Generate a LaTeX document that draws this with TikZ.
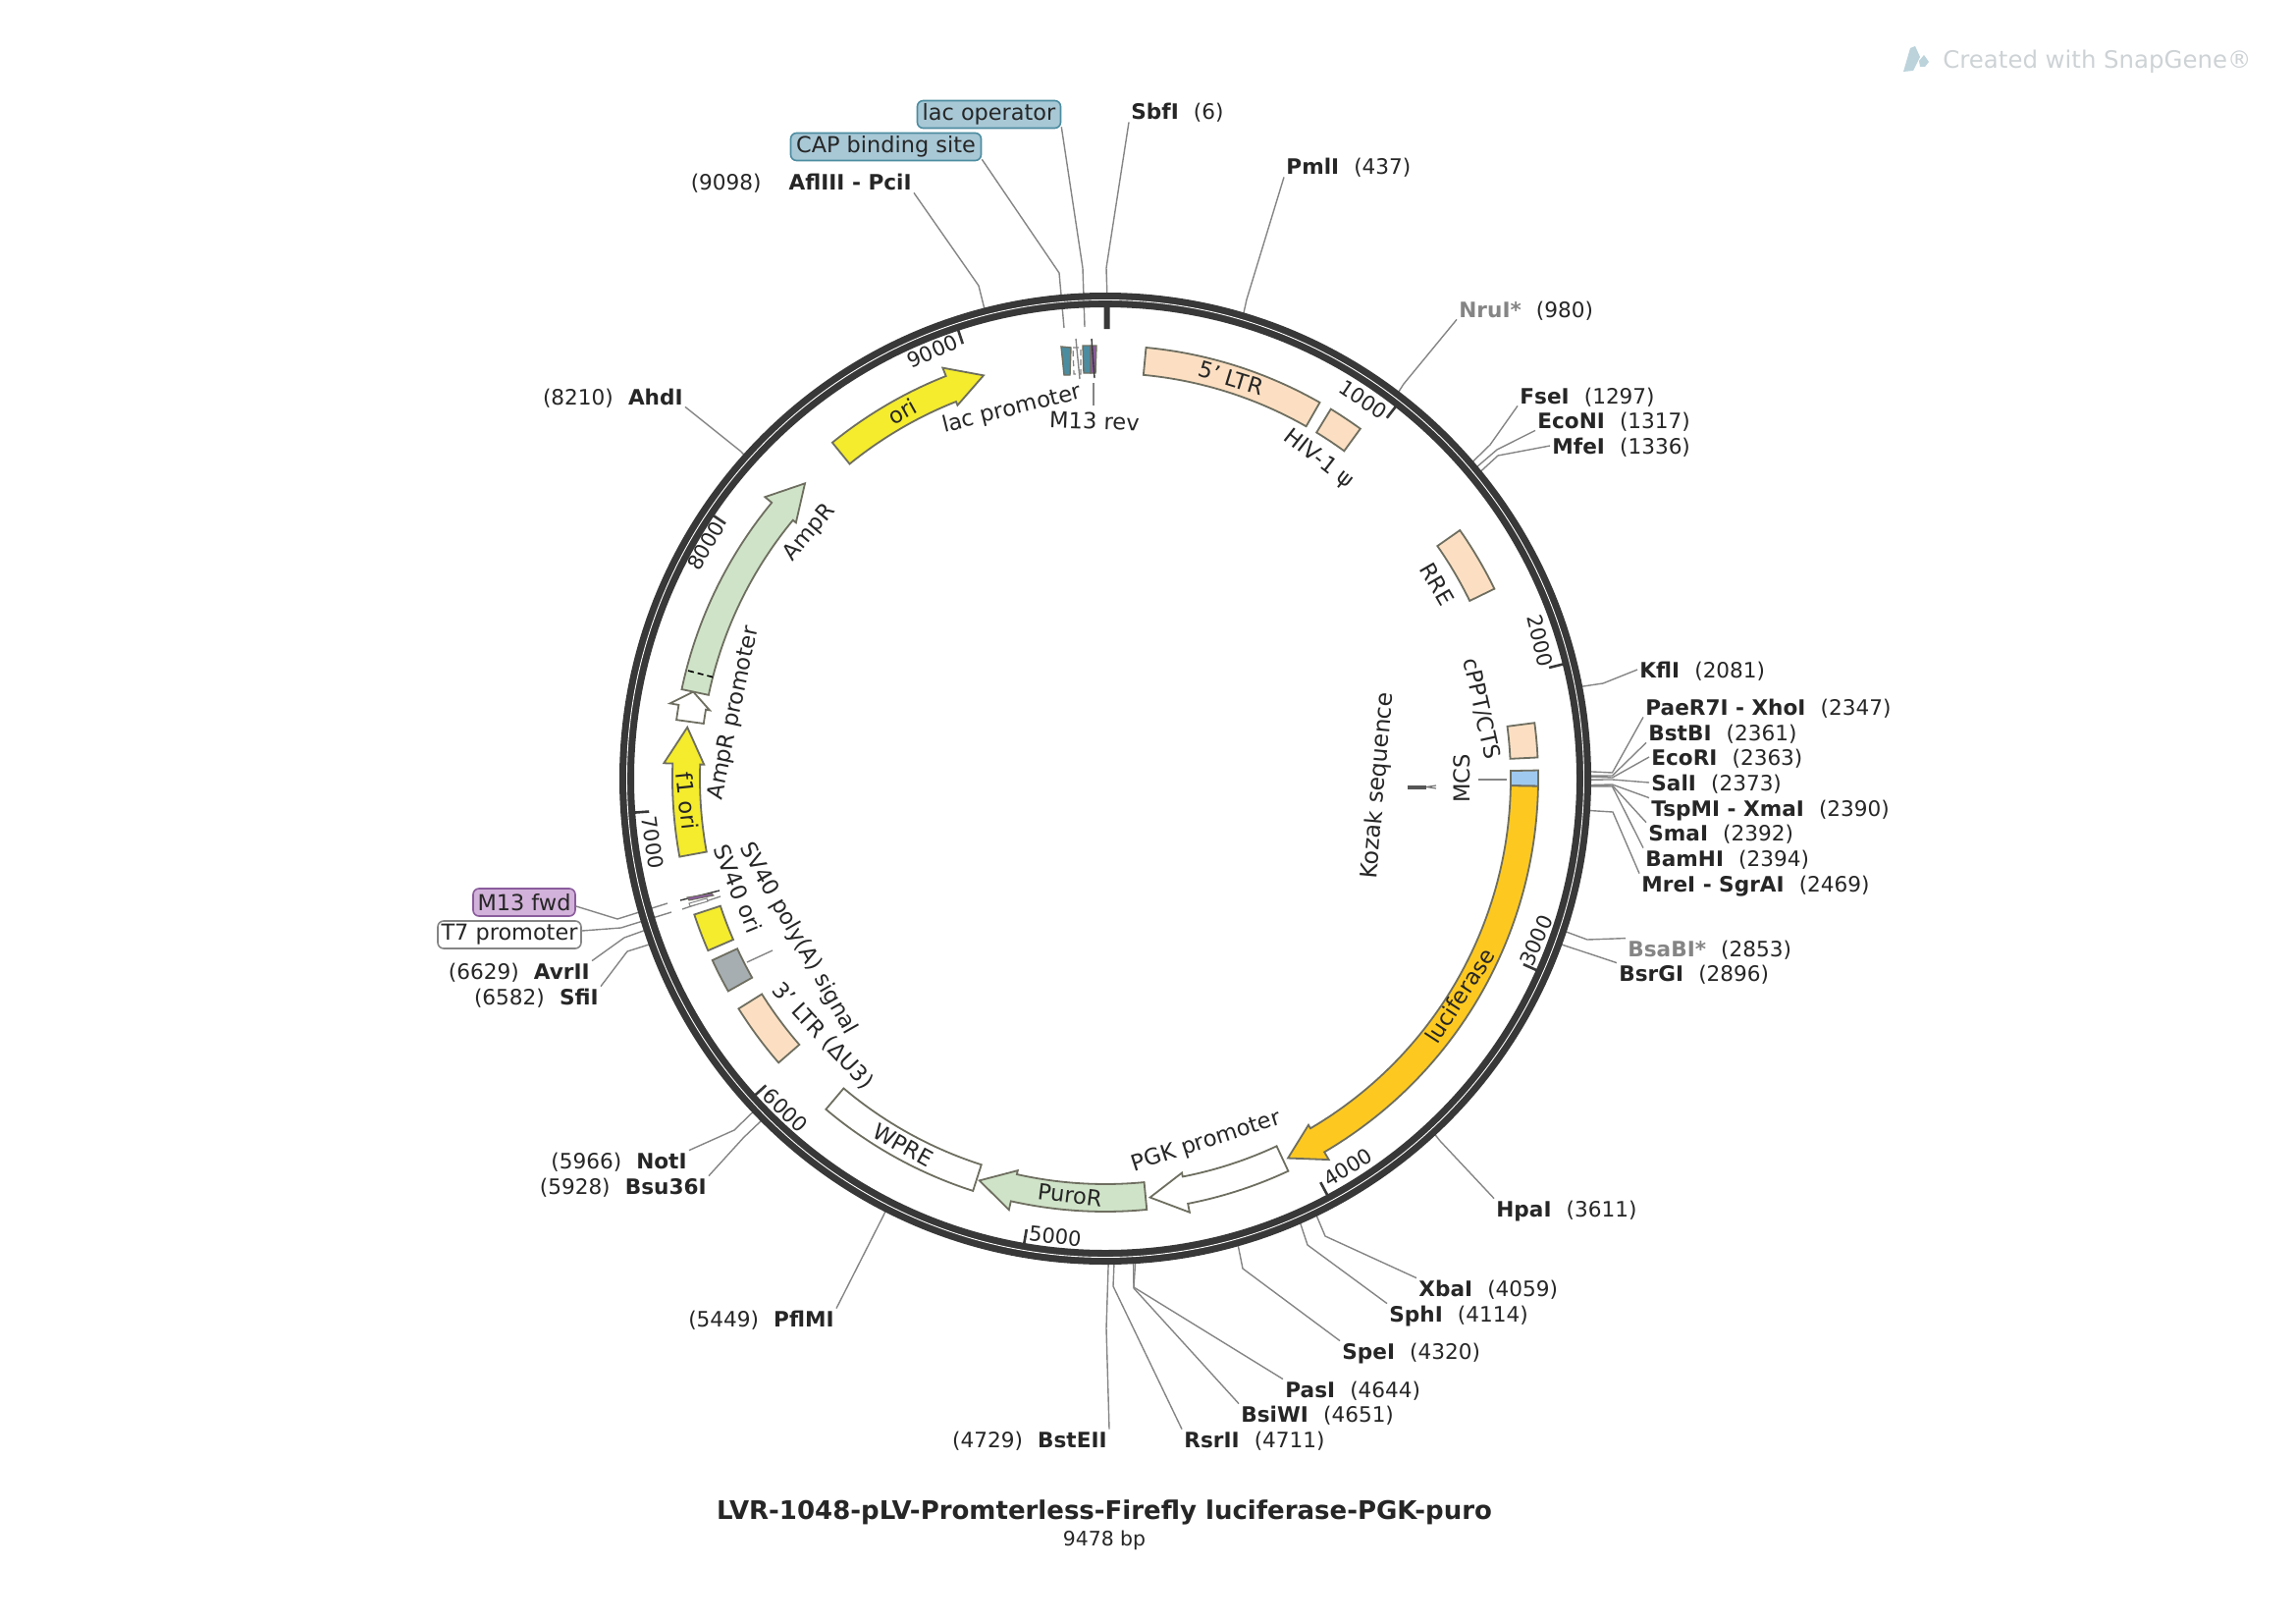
\documentclass[tikz,border=0pt]{standalone}
\usepackage{fontspec}
\setmainfont{DejaVu Sans}
\definecolor{txt}{HTML}{262626}
\definecolor{ringc}{HTML}{383838}
\definecolor{conc}{HTML}{858585}
\definecolor{edge}{HTML}{6E6E60}
\definecolor{peach}{HTML}{FCDFC2}
\definecolor{yel}{HTML}{F4EC2C}
\definecolor{agreen}{HTML}{CFE3C8}
\definecolor{lucif}{HTML}{FDC921}
\definecolor{blu}{HTML}{9FC9EE}
\definecolor{gry}{HTML}{A6AEB2}
\definecolor{tealb}{HTML}{A8C8D6}
\definecolor{teale}{HTML}{4C8CA0}
\definecolor{purb}{HTML}{D2B2DA}
\definecolor{pure}{HTML}{8A5C9C}
\definecolor{wm}{HTML}{CDD2D5}
\definecolor{wmi}{HTML}{BCD3DC}
\tikzset{
  lab/.style={inner sep=1pt,text height=8pt,text depth=0pt,text=txt,font=\fontsize{10.8}{12}\selectfont},
  flab/.style={inner sep=0pt,text=txt,font=\fontsize{11.3}{13}\selectfont},
  tnum/.style={inner sep=0pt,text=txt,font=\fontsize{10.5}{12}\selectfont},
  conn/.style={draw=conc,line width=0.7pt},
  feat/.style={draw=edge,line width=0.9pt,line join=miter},
  tag/.style={rounded corners=3pt,line width=0.8pt,inner sep=0pt,minimum height=14pt,text=txt,font=\fontsize{11.2}{13}\selectfont},
  ticks/.style={draw=ringc,line width=1.3pt}
}
\newcommand\sn[2]{\textbf{#1}\hspace{0.7em}(#2)}
\newcommand\sng[2]{\textbf{\textcolor{conc}{#1}}\hspace{0.7em}(#2)}
\newcommand\ns[2]{(#1)\hspace{0.7em}\textbf{#2}}
\newcommand\link[3]{\coordinate (r#3) at ({1126+490*sin(#3/9478*360)},{793-490*cos(#3/9478*360)});\draw[conn] (#1) -- (#2) -- (r#3);}
\newcommand\arcbox[3]{\path[#1] ({90-#2}:413) arc[start angle={90-#2},end angle={90-#3},radius=413] -- ({90-#3}:441) arc[start angle={90-#3},end angle={90-#2},radius=441] -- cycle;}
\newcommand\arcarrow[4]{\path[#1] ({90-#2}:413) arc[start angle={90-#2},end angle={90-#3},radius=413] -- ({90-#3}:409) -- ({90-#4}:429) -- ({90-#3}:450) -- ({90-#3}:441) arc[start angle={90-#3},end angle={90-#2},radius=441] -- cycle;}
\newcommand\tickat[1]{\draw[ticks] ({90-#1/9478*360}:481) -- ({90-#1/9478*360}:466);}
\begin{document}
\begin{tikzpicture}[x=0.5pt,y=-0.5pt]
\useasboundingbox (0,0) rectangle (2339,1653);
% right-hand labels
\node[lab,anchor=west] (sbf) at (1150,114) {\sn{SbfI}{6}};
\node[lab,anchor=west] (pml) at (1308,170) {\sn{PmlI}{437}};
\node[lab,anchor=west] (nru) at (1484,315) {\sng{NruI*}{980}};
\node[lab,anchor=west] (fse) at (1546,403) {\sn{FseI}{1297}};
\node[lab,anchor=west] (eco) at (1564,428) {\sn{EcoNI}{1317}};
\node[lab,anchor=west] (mfe) at (1579,454) {\sn{MfeI}{1336}};
\node[lab,anchor=west] (kfl) at (1668,682) {\sn{KflI}{2081}};
\node[lab,anchor=west] (pae) at (1674,720) {\textbf{PaeR7I - XhoI}\hspace{0.7em}(2347)};
\node[lab,anchor=west] (bst) at (1677,746) {\sn{BstBI}{2361}};
\node[lab,anchor=west] (ecr) at (1680,771) {\sn{EcoRI}{2363}};
\node[lab,anchor=west] (sal) at (1680,797) {\sn{SalI}{2373}};
\node[lab,anchor=west] (tsp) at (1680,823) {\textbf{TspMI - XmaI}\hspace{0.7em}(2390)};
\node[lab,anchor=west] (sma) at (1677,848) {\sn{SmaI}{2392}};
\node[lab,anchor=west] (bam) at (1674,874) {\sn{BamHI}{2394}};
\node[lab,anchor=west] (mre) at (1670,900) {\textbf{MreI - SgrAI}\hspace{0.7em}(2469)};
\node[lab,anchor=west] (bsa) at (1656,966) {\sng{BsaBI*}{2853}};
\node[lab,anchor=west] (bsr) at (1647,991) {\sn{BsrGI}{2896}};
\node[lab,anchor=west] (hpa) at (1522,1231) {\sn{HpaI}{3611}};
\node[lab,anchor=west] (xba) at (1443,1312) {\sn{XbaI}{4059}};
\node[lab,anchor=west] (sph) at (1413,1338) {\sn{SphI}{4114}};
\node[lab,anchor=west] (spe) at (1365,1376) {\sn{SpeI}{4320}};
\node[lab,anchor=west] (pas) at (1307,1415) {\sn{PasI}{4644}};
\node[lab,anchor=west] (bsi) at (1262,1440) {\sn{BsiWI}{4651}};
\node[lab,anchor=west] (rsr) at (1204,1466) {\sn{RsrII}{4711}};
% left-hand labels
\node[lab,anchor=east] (bste) at (1130,1466) {\ns{4729}{BstEII}};
\node[lab,anchor=east] (pfl) at (852,1343) {\ns{5449}{PflMI}};
\node[lab,anchor=east] (bsu) at (722,1208) {\ns{5928}{Bsu36I}};
\node[lab,anchor=east] (not) at (702,1182) {\ns{5966}{NotI}};
\node[lab,anchor=east] (sfi) at (612,1015) {\ns{6582}{SfiI}};
\node[lab,anchor=east] (avr) at (603,989) {\ns{6629}{AvrII}};
\node[lab,anchor=east] (ahd) at (698,404) {\ns{8210}{AhdI}};
\node[lab,anchor=east] (afl) at (931,186) {\ns{9098}{\hspace{0.6em}AflIII - PciI}};
% feature tags
\node[tag,draw=teale,fill=tealb,minimum width=73pt] (lop) at (1007.5,116.5) {lac operator};
\node[tag,draw=teale,fill=tealb,minimum width=97pt] (cap) at (902.5,149.5) {CAP binding site};
\node[tag,draw=pure,fill=purb,minimum width=52pt] (mfw) at (534,919) {M13 fwd};
\node[tag,draw=conc,fill=white,minimum width=73pt] (t7) at (519,952) {T7 promoter};
% connectors to the ring
\link{sbf.south west}{1127,273}{6}
\link{pml.south west}{1270,305}{437}
\link{nru.south west}{1430,391}{980}
\link{fse.south west}{1518,453}{1297}
\link{eco.south west}{1525,458}{1317}
\link{mfe.west}{1526,464}{1336}
\link{kfl.west}{1633,696}{2081}
\link{pae.south west}{1642.5,787}{2347}
\link{bst.south west}{1642.5,790}{2361}
\link{ecr.west}{1642.5,792}{2363}
\link{sal.west}{1642.5,794}{2373}
\link{tsp.north west}{1642.5,799}{2390}
\link{sma.north west}{1642.5,800}{2392}
\link{bam.north west}{1642.5,801}{2394}
\link{mre.north west}{1643,827}{2469}
\link{bsa.north west}{1617,957}{2853}
\link{bsr.north west}{1609,968}{2896}
\link{hpa.north west}{1467,1162}{3611}
\link{xba.north west}{1350,1259}{4059}
\link{sph.north west}{1332,1268}{4114}
\link{spe.north west}{1266,1292}{4320}
\link{pas.north west}{1155,1311}{4644}
\link{bsi.north west}{1155,1312}{4651}
\link{rsr.north west}{1134,1310}{4711}
\link{bste.north east}{1127,1353}{4729}
\link{pfl.north east}{900,1238}{5449}
\link{bsu.north east}{757.5,1158.6}{5928}
\link{not.north east}{748,1151}{5966}
\link{sfi.north east}{639,969}{6582}
\link{avr.north east}{636,955}{6629}
\link{ahd.south east}{755,460}{8210}
\link{afl.south east}{997,291}{9098}
\coordinate (capEnd) at (1084,334);
\coordinate (lopEnd) at (1105,333);
\coordinate (mfwEnd) at (680,920);
\coordinate (t7End) at (684,929);
\draw[conn] (cap.south east) ++(0,-2) -- (1079,278) -- (capEnd);
\draw[conn] (lop.south east) ++(0,-2) -- (1103,273) -- (lopEnd);
\draw[conn] (mfw.east) ++(0,4) -- (629,936) -- (mfwEnd);
\draw[conn] (t7.east) ++(0,-4) -- (632.5,945) -- (t7End);
% ring, ticks, features: polar about the centre
\begin{scope}[shift={(1126,793)},y=0.5pt]
\coordinate (ctr) at (0,0);
\draw[ringc,line width=7.5pt] (ctr) circle[radius=487.5];
\draw[white,line width=0.45pt] (ctr) circle[radius=487.5];
\draw[ringc,line width=3pt] (90-0.2:481) -- (90-0.2:458);
\tickat{1000}\tickat{2000}\tickat{3000}\tickat{4000}\tickat{5000}\tickat{6000}\tickat{7000}\tickat{8000}\tickat{9000}
\arcbox{feat,fill=peach}{5.4}{29.7}
\arcbox{feat,fill=peach}{31.4}{36.1}
\arcbox{feat,fill=peach}{55}{64}
\arcbox{feat,fill=peach}{82.6}{87.2}
\arcbox{feat,fill=blu,draw=edge}{88.9}{91}
\arcarrow{feat,fill=lucif}{91}{149.6}{154.3}
\arcarrow{feat,fill=white}{155}{169}{173.9}
\arcarrow{feat,fill=agreen}{174.5}{192.6}{197.4}
\arcbox{feat,fill=white}{197.8}{220.2}
\arcbox{feat,fill=peach}{229}{237.9}
\arcbox{feat,fill=gry}{240.6}{245.2}
\arcbox{feat,fill=yel}{246.6}{251.7}
\arcarrow{feat,fill=yel}{259.6}{272}{277}
\arcarrow{feat,fill=white}{277.8}{279.8}{281.9}
\arcarrow{feat,fill=agreen}{281.9}{309.6}{314.5}
\draw[densely dashed,line width=0.8pt,black] ({90+75.5}:413) -- ({90+75.5}:441);
\arcarrow{feat,fill=yel}{320.9}{338.4}{343.2}
\end{scope}
% small features at lac region and at M13 fwd
\path[draw=edge,line width=0.7pt,fill=teale] (1081,353) -- (1091,354) -- (1090,382) -- (1084,382) -- cycle;
\path[draw=conc,line width=0.6pt,densely dashed,fill=white] (1093,354) -- (1101,354) -- (1101,381) -- (1094,381) -- cycle;
\draw[conc,line width=0.7pt] (1096,345) -- (1100,386);
\path[draw=edge,line width=0.7pt,fill=teale] (1103,352) -- (1111,352) -- (1111,380) -- (1104,380) -- cycle;
\path[draw=edge,line width=0.7pt,fill=pure] (1111,352) -- (1117,352) -- (1116,380) -- (1111,380) -- cycle;
\draw[ringc,line width=0.7pt] (1112,345) -- (1115,385);
\coordinate (mrA) at (1114,390);
\coordinate (mrB) at (1114,413);
\draw[conn] (mrA) -- (mrB);
\draw[ringc,line width=0.7pt] (693,917) -- (733,907);
\path[draw=edge,line width=0.5pt,fill=pure] (700,914) -- (725,910) -- (727,912) -- (702,917) -- cycle;
\draw[conc,line width=0.7pt] (695,926) -- (734,913);
\path[draw=conc,line width=0.5pt,fill=white] (702,920) -- (720,915) -- (721,918) -- (703,923) -- cycle;
\coordinate (koA) at (1434,801.5);
\coordinate (koB) at (1453,801.5);
\coordinate (koC) at (1463,800);
\coordinate (koD) at (1463,803);
\draw[ringc!85,line width=2pt] (koA) -- (koB);
\draw[ringc!70,line width=0.6pt] (koB) -- (koC) (koB) -- (koD);
% feature labels
\node[flab,rotate=-17] (n1) at (1254,385) {5' LTR};
\node[flab,rotate=-38] (n2) at (1343,468) {HIV-1 ψ};
\node[flab,rotate=-60] (n3) at (1464,595) {RRE};
\node[flab,rotate=-77.5] (n4) at (1509,722) {cPPT/CTS};
\node[flab,rotate=90] (n5) at (1489,793) {MCS};
\node[flab,rotate=85,font=\fontsize{11.8}{13}\selectfont] (n6) at (1404,800) {Kozak sequence};
\node[flab,rotate=57] (n7) at (1487,1014) {luciferase};
\node[flab,rotate=18] (n8) at (1229,1163) {PGK promoter};
\node[flab,rotate=-7] (n9) at (1090,1217) {PuroR};
\node[flab,rotate=-29] (n10) at (920,1166) {WPRE};
\node[flab,rotate=-47] (n11) at (838,1055) {3' LTR (ΔU3)};
\node[flab,rotate=-60.4] (n12) at (813,956) {SV40 poly(A) signal};
\node[flab,rotate=-67.6] (n13) at (752,905) {SV40 ori};
\node[flab,rotate=-84] (n14) at (700,816) {f1 ori};
\node[flab,rotate=78] (n15) at (748,726) {AmpR promoter};
\node[flab,rotate=50] (n16) at (825,543) {AmpR};
\node[flab,rotate=29] (n17) at (919,419) {ori};
\node[flab,rotate=14] (n18) at (1031,417) {lac promoter};
\node[flab,rotate=-2] (n19) at (1115,429) {M13 rev};
\coordinate (polyA) at (787,968);
\coordinate (polyB) at (761,980);
\draw[conn] (polyA) -- (polyB);
\coordinate (mcsA) at (1506,794);
\coordinate (mcsB) at (1535,794);
\draw[conn] (mcsA) -- (mcsB);
% tick numbers
\node[tnum,rotate=-34] (t1) at (1389,407) {1000};
\node[tnum,rotate=-76] (t2) at (1569,653) {2000};
\node[tnum,rotate=66] (t3) at (1565,958) {3000};
\node[tnum,rotate=32] (t4) at (1373,1189) {4000};
\node[tnum,rotate=-6] (t5) at (1075,1259) {5000};
\node[tnum,rotate=-44] (t6) at (800,1131) {6000};
\node[tnum,rotate=-82] (t7n) at (665,858) {7000};
\node[tnum,rotate=60] (t8) at (719,556) {8000};
\node[tnum,rotate=24] (t9) at (950,358) {9000};
% title
\node[inner sep=0pt,text=txt,font=\fontsize{13}{15}\selectfont\bfseries] (title) at (1125,1540) {LVR-1048-pLV-Promterless-Firefly luciferase-PGK-puro};
\node[inner sep=0pt,text=txt,font=\fontsize{10.2}{12}\selectfont] (bp) at (1125,1569) {9478 bp};
% watermark
\node[inner sep=0pt,anchor=west,text=wm,font=\fontsize{12.2}{14}\selectfont] (wmk) at (1979,63) {Created with SnapGene®};
\path[fill=wmi] (1939,73) -- (1946,49) -- (1951,47) -- (1956,58) -- (1949,72) -- cycle;
\path[fill=wmi] (1955,62) -- (1960,56) -- (1965,63) -- (1961,68) -- (1956,68) -- cycle;
\end{tikzpicture}
\end{document}
